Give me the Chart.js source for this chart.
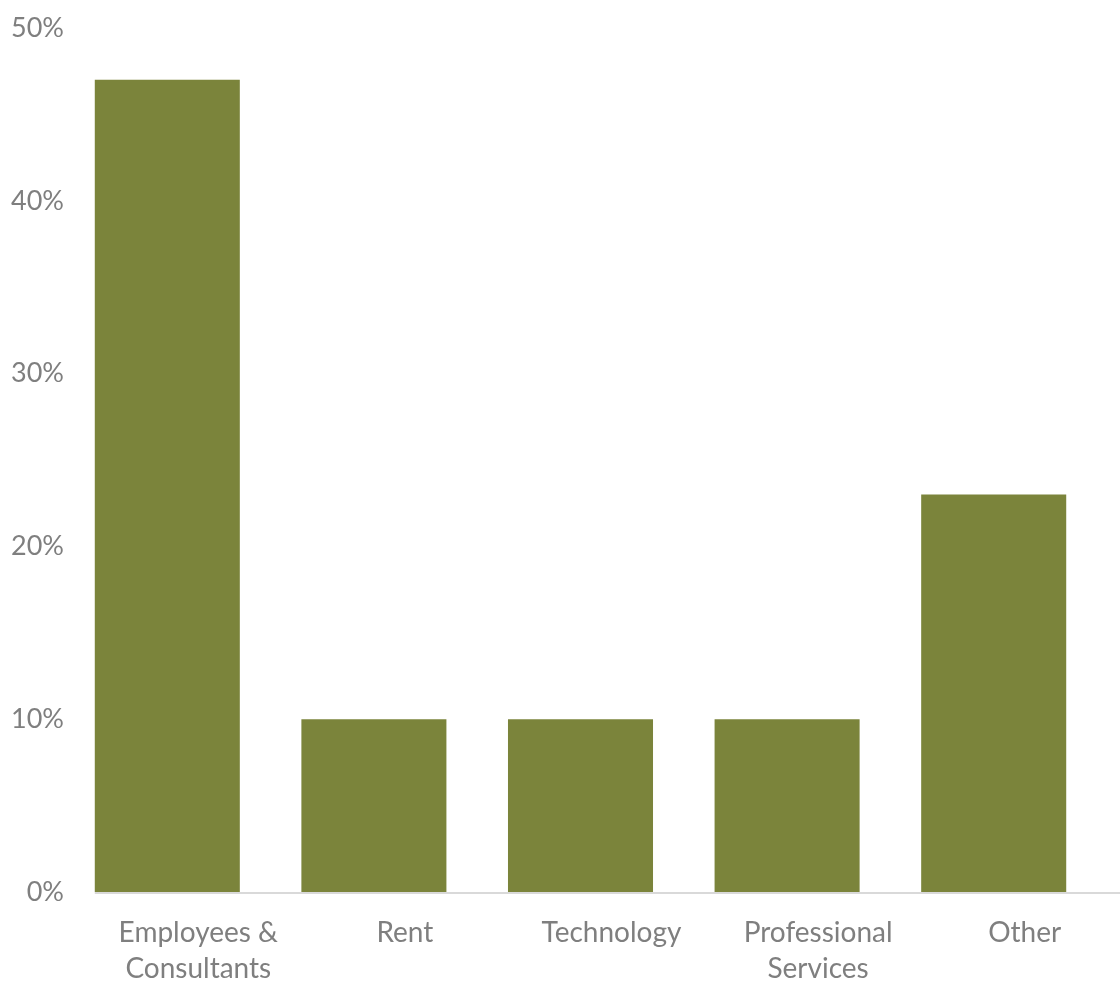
<!DOCTYPE html>
<html>
<head>
<meta charset="utf-8">
<script src="https://cdn.jsdelivr.net/npm/chart.js@4/dist/chart.umd.min.js"></script>
<style>
  html, body { margin: 0; padding: 0; background: #fff; }
  canvas { display: block; }
</style>
</head>
<body>
<canvas id="costChart" width="1120" height="982"></canvas>
<script>
// categories (multi-line labels) and share of spend
const categories = [["Employees &", "Consultants"], "Rent", "Technology", ["Professional", "Services"], "Other"];
const shares = [47, 10, 10, 10, 23];
const yTicks = [0, 10, 20, 30, 40, 50];

const textGray = "#7f7f7f";
const barColor = "#7b843b";

// baseline starts at the first bar's left edge and runs to the canvas edge
const baseline = {
  id: "baseline",
  beforeDatasetsDraw(chart) {
    const bar = chart.getDatasetMeta(0).data[0];
    if (!bar) return;
    const y = chart.scales.y.getPixelForValue(0);
    const c = chart.ctx;
    c.save();
    c.strokeStyle = "#d9d9d9";
    c.lineWidth = 2;
    c.beginPath();
    c.moveTo(bar.x - bar.width / 2, y + 1);
    c.lineTo(chart.width, y + 1);
    c.stroke();
    c.restore();
  }
};

const ctx = document.getElementById("costChart").getContext("2d");

new Chart(ctx, {
  type: "bar",
  data: {
    labels: categories,
    datasets: [{
      data: shares,
      backgroundColor: barColor,
      borderWidth: 0,
      categoryPercentage: 1,
      barPercentage: 0.702
    }]
  },
  options: {
    responsive: false,
    animation: false,
    layout: { padding: { top: 28, right: 23, left: 0, bottom: 0 } },
    plugins: {
      legend: { display: false },
      tooltip: { enabled: false }
    },
    scales: {
      x: {
        grid: { display: false, drawTicks: false },
        border: { display: false },
        ticks: {
          color: textGray,
          font: { family: "Lato", size: 28, lineHeight: 1.28 },
          padding: 23,
          maxRotation: 0,
          labelOffset: 31
        },
        afterFit: (scale) => { scale.height = 90; }
      },
      y: {
        min: 0,
        max: 50,
        afterBuildTicks: (scale) => { scale.ticks = yTicks.map(v => ({ value: v })); },
        grid: { display: false, drawTicks: false },
        border: { display: false },
        ticks: {
          color: textGray,
          font: { family: "Lato", size: 27 },
          padding: 0,
          callback: (v) => v + "%"
        },
        afterFit: (scale) => { scale.width = 64; }
      }
    }
  },
  plugins: [baseline]
});
</script>
</body>
</html>
